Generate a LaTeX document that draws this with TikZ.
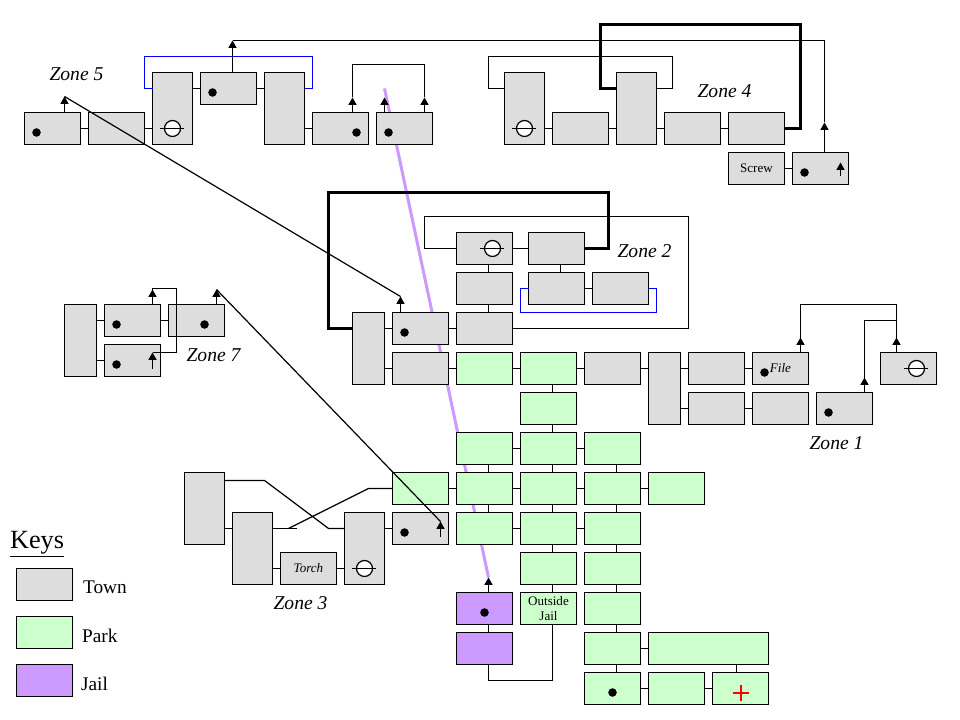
\documentclass[tikz,border=0pt]{standalone}
\usepackage{fontspec}
\setmainfont{Liberation Serif}
\usetikzlibrary{arrows.meta}
\definecolor{towngrey}{HTML}{DDDDDD}
\definecolor{parkgreen}{HTML}{CCFFCC}
\definecolor{jailpurple}{HTML}{CC99FF}
\tikzset{
  room/.style={draw=black,rectangle,anchor=north west,inner sep=0pt,outer sep=0pt,
    minimum width=42pt,minimum height=24pt,align=center,font=\fontsize{9.8}{11.6}\selectfont},
  town/.style={room,fill=towngrey},
  park/.style={room,fill=parkgreen},
  jail/.style={room,fill=jailpurple},
  tall/.style={minimum width=30pt,minimum height=54pt},
  slim/.style={minimum width=24pt,minimum height=54pt},
  long/.style={minimum width=90pt},
  spot/.style={circle,fill=black,inner sep=0pt,minimum size=6.4pt},
  gate/.style={circle,draw=black,fill=white,inner sep=0pt,minimum size=12pt},
  tipline/.style={-{Triangle[length=5.5pt,width=6pt]}},
  heavy/.style={line width=1.8pt},
  secret/.style={draw=blue},
  zonelabel/.style={inner sep=0pt,font=\itshape\fontsize{14.7}{16}\selectfont},
  keylabel/.style={inner sep=0pt,anchor=west,font=\fontsize{14.5}{16}\selectfont}
}
\begin{document}
\begin{tikzpicture}[x=0.75pt,y=-0.75pt,line width=0.9pt]
        \useasboundingbox (-0.5,-0.5) rectangle (959.5,719.5);
        \coordinate (purplestart) at (384,88);
        \coordinate (purpleend) at (488,577);
        \draw [jailpurple,line width=2.25pt] (purplestart) -- (purpleend);
        \node [town] (r5a) at (24,112) {};
        \node [town] (r5b) at (88,112) {};
        \node [town,tall] (r5c) at (152,72) {};
        \node [town] (r5d) at (200,72) {};
        \node [town,tall] (r5e) at (264,72) {};
        \node [town] (r5f) at (312,112) {};
        \node [town] (r5g) at (376,112) {};
        \node [town,tall] (r4a) at (504,72) {};
        \node [town] (r4b) at (552,112) {};
        \node [town,tall] (r4c) at (616,72) {};
        \node [town] (r4d) at (664,112) {};
        \node [town] (r4e) at (728,112) {};
        \node [town] (r4screw) at (728,152) {Screw};
        \node [town] (r4f) at (792,152) {};
        \node [town] (r2a) at (456,232) {};
        \node [town] (r2b) at (528,232) {};
        \node [town] (r2c) at (456,272) {};
        \node [town] (r2d) at (456,312) {};
        \node [town] (r2e) at (528,272) {};
        \node [town] (r2f) at (592,272) {};
        \node [town,slim] (r2hub) at (352,312) {};
        \node [town] (r2g) at (392,312) {};
        \node [town] (r2h) at (392,352) {};
        \node [park] (p2a) at (456,352) {};
        \node [park] (p2b) at (520,352) {};
        \node [town] (r1a) at (584,352) {};
        \node [town,slim] (r1hub) at (648,352) {};
        \node [town] (r1b) at (688,352) {};
        \node [town,font=\itshape\fontsize{9.8}{11.6}\selectfont] (r1file) at (752,352) {File};
        \node [town] (r1c) at (688,392) {};
        \node [town] (r1d) at (752,392) {};
        \node [town] (r1e) at (816,392) {};
        \node [town] (r1f) at (880,352) {};
        \node [town,slim] (r7hub) at (64,304) {};
        \node [town] (r7a) at (104,304) {};
        \node [town] (r7b) at (168,304) {};
        \node [town] (r7c) at (104,344) {};
        \node [town,tall] (r3a) at (184,472) {};
        \node [town,tall] (r3b) at (232,512) {};
        \node [town,font=\itshape\fontsize{9.8}{11.6}\selectfont] (r3torch) at (280,552) {Torch};
        \node [town,tall] (r3c) at (344,512) {};
        \node [town] (r3d) at (392,512) {};
        \node [park] (pa) at (520,392) {};
        \node [park] (pb) at (456,432) {};
        \node [park] (pc) at (520,432) {};
        \node [park] (pd) at (584,432) {};
        \node [park] (pe) at (392,472) {};
        \node [park] (pf) at (456,472) {};
        \node [park] (pg) at (520,472) {};
        \node [park] (ph) at (584,472) {};
        \node [park] (pi) at (648,472) {};
        \node [park] (pj) at (456,512) {};
        \node [park] (pk) at (520,512) {};
        \node [park] (pl) at (584,512) {};
        \node [park] (pm) at (520,552) {};
        \node [park] (pn) at (584,552) {};
        \node [park] (poutside) at (520,592) {Outside\\Jail};
        \node [park] (po) at (584,592) {};
        \node [park] (pq) at (584,632) {};
        \node [park,long] (pr) at (648,632) {};
        \node [park] (ps) at (584,672) {};
        \node [park] (pt) at (648,672) {};
        \node [park] (pu) at (712,672) {};
        \node [jail] (ja) at (456,592) {};
        \node [jail] (jb) at (456,632) {};
        \node [spot] (s5a) at (36,132) {};
        \node [spot] (s5d) at (212,92) {};
        \node [spot] (s5f) at (356,132) {};
        \node [spot] (s5g) at (388,132) {};
        \node [spot] (s4f) at (804,172) {};
        \node [spot] (s2g) at (404,332) {};
        \node [spot] (s1file) at (764,372) {};
        \node [spot] (s1e) at (828,412) {};
        \node [spot] (s7a) at (116,324) {};
        \node [spot] (s7b) at (204,324) {};
        \node [spot] (s7c) at (116,364) {};
        \node [spot] (s3d) at (404,532) {};
        \node [spot] (sja) at (484,612) {};
        \node [spot] (sps) at (612,692) {};
        \node [gate] (g5c) at (172,128) {};
        \draw (g5c.west) ++(-4,0) -- ++(24,0);
        \node [gate] (g4a) at (524,128) {};
        \draw (g4a.west) ++(-4,0) -- ++(24,0);
        \node [gate] (g2a) at (492,248) {};
        \draw (g2a.west) ++(-4,0) -- ++(24,0);
        \node [gate] (g1f) at (916,368) {};
        \draw (g1f.west) ++(-4,0) -- ++(24,0);
        \node [gate] (g3c) at (364,568) {};
        \draw (g3c.west) ++(-4,0) -- ++(24,0);
        \node [inner sep=0pt] (goal) at (740,692) {};
        \draw [red,line width=1.5pt] (goal) ++(-8,0) -- ++(16,0) (goal) ++(0,-8) -- ++(0,16);
        \draw (r5a.east) -- (r5b.west);
        \draw (r5b.east) -- (r5c.west |- r5b.east);
        \draw (r5c.east |- r5d.west) -- (r5d.west);
        \draw (r5d.east) -- (r5e.west |- r5d.east);
        \draw (r5e.east |- r5f.west) -- (r5f.west);
        \draw [secret] (r5c.west |- r5d.west) -- ++(-8,0) -- ++(0,-32) -- ++(168,0) -- ++(0,32) -- (r5e.east |- r5d.west);
        \coordinate (t5a) at (64,96);
        \coordinate (t5d) at (232,40);
        \coordinate (t5f) at (352,97);
        \coordinate (t5g) at (384,97);
        \coordinate (t5h) at (424,97);
        \draw [tipline] (t5a |- r5a.north) -- (t5a);
        \draw [tipline] (t5d |- r5d.north) -- (t5d);
        \draw [tipline] (t5f |- r5f.north) -- (t5f);
        \draw [tipline] (t5g |- r5g.north) -- (t5g);
        \draw [tipline] (t5h |- r5g.north) -- (t5h);
        \draw (t5f) -- ++(0,-33) -| (t5h);
        \draw (r4a.east |- r4b.west) -- (r4b.west);
        \draw (r4b.east) -- (r4c.west |- r4b.east);
        \draw (r4c.east |- r4d.west) -- (r4d.west);
        \draw (r4d.east) -- (r4e.west);
        \draw (r4screw.east) -- (r4f.west);
        \draw (r4a.west) ++(0,-20) -- ++(-16,0) -- ++(0,-32) -- ++(184,0) -- ++(0,32) -- ++(-16,0);
        \draw [heavy] (r4e.east) -- ++(16,0) -- ++(0,-104) -- ++(-200,0) -- ++(0,64) -- ++(16,0);
        \coordinate (t4f) at (824,122);
        \coordinate (t4g) at (840,162);
        \coordinate (b4g) at (840,176);
        \draw [tipline] (t4f |- r4f.north) -- (t4f);
        \draw [tipline] (b4g) -- (t4g);
        \draw (t4f) |- (t5d);
        \draw (r2a.east) -- (r2b.west);
        \draw ([xshift=3pt]r2a.south) -- ([xshift=3pt]r2c.north);
        \draw ([xshift=3pt]r2c.south) -- ([xshift=3pt]r2d.north);
        \draw ([xshift=3pt]r2b.south) -- ([xshift=3pt]r2e.north);
        \draw (r2e.east) -- (r2f.west);
        \draw [secret] (r2e.west) -- ++(-8,0) -- ++(0,24) -- ++(136,0) -- ++(0,-24) -- (r2f.east);
        \draw (r2a.west) -- ++(-32,0) -- ++(0,-32) -- ++(264,0) -- ++(0,112) -- (r2d.east);
        \draw [heavy] (r2b.east) -- ++(24,0) -- ++(0,-56) -- ++(-280,0) -- ++(0,136) -- (r2hub.west |- r2g.west);
        \draw (r2hub.east |- r2g.west) -- (r2g.west);
        \draw (r2g.east) -- (r2d.west);
        \draw (r2hub.east |- r2h.west) -- (r2h.west);
        \draw (r2h.east) -- (p2a.west);
        \draw (p2a.east) -- (p2b.west);
        \draw (p2b.east) -- (r1a.west);
        \draw (r1a.east) -- (r1hub.west |- r1a.east);
        \draw (r1hub.east |- r1b.west) -- (r1b.west);
        \draw (r1b.east) -- (r1file.west);
        \draw (r1hub.east |- r1c.west) -- (r1c.west);
        \draw (r1c.east) -- (r1d.west);
        \coordinate (t2g) at (400,296);
        \draw [tipline] (t2g |- r2g.north) -- (t2g);
        \draw (t5a) -- (t2g);
        \coordinate (t1file) at (800,337);
        \coordinate (t1f) at (896,337);
        \coordinate (t1e) at (864,377);
        \draw [tipline] (t1file |- r1file.north) -- (t1file);
        \draw [tipline] (t1f |- r1f.north) -- (t1f);
        \draw [tipline] (t1e |- r1e.north) -- (t1e);
        \draw (t1file) -- ++(0,-33) -| (t1f);
        \draw (t1e) -- ++(0,-57) -- ++(32,0);
        \draw (r7hub.east |- r7a.west) -- (r7a.west);
        \draw (r7a.east) -- (r7b.west);
        \draw (r7hub.east |- r7c.west) -- (r7c.west);
        \coordinate (t7a) at (152,289);
        \coordinate (t7b) at (216,289);
        \coordinate (t7c) at (152,352);
        \coordinate (b7c) at (152,368);
        \draw [tipline] (t7a |- r7a.north) -- (t7a);
        \draw [tipline] (t7b |- r7b.north) -- (t7b);
        \draw [tipline] (b7c) -- (t7c);
        \draw (t7a) -- ++(0,-1) -- ++(24,0) -- ++(0,64) -- (t7c);
        \coordinate (t3d) at (440,521);
        \coordinate (b3d) at (440,536);
        \draw [tipline] (b3d) -- (t3d);
        \draw (t7b) -- (t3d);
        \draw (r3a.east |- r3d.west) -- (r3b.west |- r3d.west);
        \draw (r3b.east |- r3torch.west) -- (r3torch.west);
        \draw (r3torch.east) -- (r3c.west |- r3torch.east);
        \draw (r3c.east |- r3d.west) -- (r3d.west);
        \draw (r3a.east) ++(0,-28) -- ++(40,0) -- (328,528) -- (r3c.west |- r3d.west);
        \draw (r3b.east |- r3d.west) -- ++(24,0);
        \draw (288,528) -- (368,488) -- (pe.west);
        \draw ([xshift=3pt]p2b.south) -- ([xshift=3pt]pa.north);
        \draw ([xshift=3pt]pa.south) -- ([xshift=3pt]pc.north);
        \draw (pb.east) -- (pc.west);
        \draw (pc.east) -- (pd.west);
        \draw ([xshift=3pt]pb.south) -- ([xshift=3pt]pf.north);
        \draw ([xshift=3pt]pc.south) -- ([xshift=3pt]pg.north);
        \draw ([xshift=3pt]pd.south) -- ([xshift=3pt]ph.north);
        \draw (pe.east) -- (pf.west);
        \draw (pf.east) -- (pg.west);
        \draw (pg.east) -- (ph.west);
        \draw (ph.east) -- (pi.west);
        \draw ([xshift=3pt]pf.south) -- ([xshift=3pt]pj.north);
        \draw ([xshift=3pt]pg.south) -- ([xshift=3pt]pk.north);
        \draw ([xshift=3pt]ph.south) -- ([xshift=3pt]pl.north);
        \draw (pj.east) -- (pk.west);
        \draw (pk.east) -- (pl.west);
        \draw ([xshift=3pt]pk.south) -- ([xshift=3pt]pm.north);
        \draw ([xshift=3pt]pl.south) -- ([xshift=3pt]pn.north);
        \draw ([xshift=3pt]pm.south) -- ([xshift=3pt]poutside.north);
        \draw ([xshift=3pt]pn.south) -- ([xshift=3pt]po.north);
        \draw ([xshift=3pt]po.south) -- ([xshift=3pt]pq.north);
        \draw (pq.east) -- (pr.west);
        \draw ([xshift=3pt]pq.south) -- ([xshift=3pt]ps.north);
        \draw ([xshift=-3pt]pu.north) ++(0,-8) -- ++(0,8);
        \draw (ps.east) -- (pt.west);
        \draw (pt.east) -- (pu.west);
        \draw ([xshift=3pt]ja.south) -- ([xshift=3pt]jb.north);
        \draw ([xshift=3pt]jb.south) -- ++(0,16) -| ([xshift=3pt]poutside.south);
        \draw [tipline] ([xshift=3pt]ja.north) -- (purpleend);
        \node [zonelabel] (zone5) at (76,74) {Zone 5};
        \node [zonelabel] (zone4) at (724,91) {Zone 4};
        \node [zonelabel] (zone2) at (644,251) {Zone 2};
        \node [zonelabel] (zone7) at (213,355) {Zone 7};
        \node [zonelabel] (zone1) at (836,443) {Zone 1};
        \node [zonelabel] (zone3) at (300,603) {Zone 3};
        \node [inner sep=0pt,anchor=west,font=\fontsize{19.7}{22}\selectfont] (keys) at (9,544) {\underline{Keys}};
        \node [town] (keytown) at (16,568) {};
        \node [park] (keypark) at (16,616) {};
        \node [jail] (keyjail) at (16,664) {};
        \node [keylabel] (labeltown) at (82,587) {Town};
        \node [keylabel] (labelpark) at (81,635) {Park};
        \node [keylabel] (labeljail) at (80,683) {Jail};
        \end{tikzpicture}
\end{document}
